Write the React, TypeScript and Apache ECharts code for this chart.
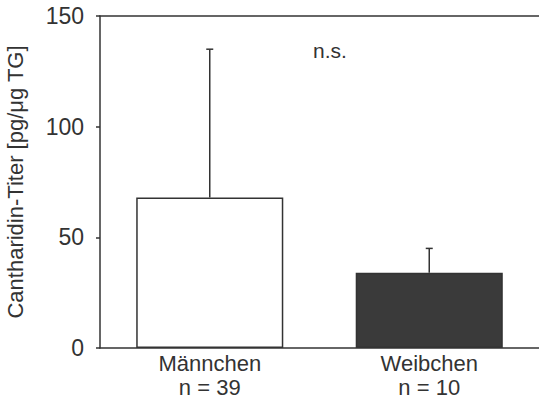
import React, { useEffect, useRef } from "react";
import * as echarts from "echarts";

const categories = ["Männchen", "Weibchen"];
const sampleSizes = ["n = 39", "n = 10"];
const means = [68, 34];
const errorTops = [135, 45];
const barColors = ["#ffffff", "#3a3a3a"];
const yTicks = [0, 50, 100, 150];
const yAxisTitle = "Cantharidin-Titer [pg/\u03bcg TG]";
const significance = "n.s.";

const FONT = "Liberation Sans, Arial, sans-serif";
const INK = "#333333";

export default function App() {
  const ref = useRef<HTMLDivElement>(null);
  useEffect(() => {
    if (!ref.current) return;
    const chart = echarts.init(ref.current, null, { renderer: "svg" });
    chart.setOption({
      animation: false,
      backgroundColor: "#ffffff",
      grid: {
        left: 100,
        top: 16,
        right: 0,
        bottom: 52,
        containLabel: false,
        outerBoundsMode: "none",
      },
      xAxis: [
        {
          type: "category",
          data: categories,
          axisLine: { show: true, lineStyle: { color: INK, width: 1.5 } },
          axisTick: { show: false },
          axisLabel: {
            color: INK,
            fontFamily: FONT,
            fontSize: 22,
            lineHeight: 24,
            margin: 3,
            formatter: (v: string, i: number) => `${v}\n${sampleSizes[i]}`,
          },
        },
        {
          type: "category",
          position: "top",
          data: categories,
          axisLine: { show: true, lineStyle: { color: INK, width: 1.5 } },
          axisTick: { show: false },
          axisLabel: { show: false },
        },
      ],
      yAxis: {
        type: "value",
        min: yTicks[0],
        max: yTicks[yTicks.length - 1],
        interval: 50,
        name: yAxisTitle,
        nameLocation: "middle",
        nameGap: 74,
        nameTextStyle: { color: INK, fontFamily: FONT, fontSize: 22 },
        axisLine: { show: true, lineStyle: { color: INK, width: 1.5 } },
        axisTick: { show: true, inside: false, length: 4, lineStyle: { color: INK, width: 1.5 } },
        axisLabel: { color: INK, fontFamily: FONT, fontSize: 23, margin: 16 },
        splitLine: { show: false },
      },
      series: [
        {
          type: "bar",
          barWidth: "67%",
          data: means.map((v, i) => ({
            value: v,
            itemStyle: { color: barColors[i], borderColor: INK, borderWidth: 1.5 },
          })),
          z: 2,
        },
        {
          type: "custom",
          z: 3,
          data: means.map((m, i) => [i, m, errorTops[i]]),
          renderItem: (params: any, api: any) => {
            const x = api.value(0);
            const base = api.coord([x, api.value(1)]);
            const top = api.coord([x, api.value(2)]);
            const half = 3.5;
            return {
              type: "group",
              children: [
                {
                  type: "line",
                  shape: { x1: base[0], y1: base[1], x2: top[0], y2: top[1] },
                  style: { stroke: INK, lineWidth: 1.5 },
                },
                {
                  type: "line",
                  shape: { x1: top[0] - half, y1: top[1], x2: top[0] + half, y2: top[1] },
                  style: { stroke: INK, lineWidth: 1.5 },
                },
              ],
            };
          },
        },
      ],
      graphic: [
        {
          type: "text",
          x: 313,
          y: 50,
          style: {
            text: significance,
            fill: INK,
            font: `21px ${FONT}`,
            verticalAlign: "middle",
          },
        },
      ],
    });
    return () => chart.dispose();
  }, []);
  return <div ref={ref} style={{ width: 539, height: 400, position: "absolute", left: 0, top: 0 }} />;
}
